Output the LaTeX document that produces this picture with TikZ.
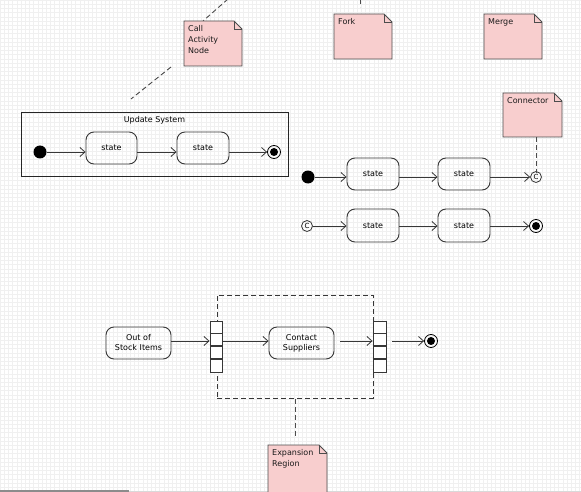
\documentclass[tikz,border=0pt]{standalone}
\usepackage{fontspec}
\setmainfont{DejaVu Sans}
\usetikzlibrary{arrows.meta}
\definecolor{notepink}{RGB}{248,206,206}
\definecolor{edgegray}{RGB}{55,55,55}
\tikzset{
 stbox/.style={draw=edgegray, line width=0.9pt, rounded corners=8pt, minimum width=52pt, minimum height=32pt, inner sep=0pt, align=center, font=\fontsize{8}{10}\selectfont},
 flow/.style={draw=edgegray, line width=0.8pt, -{Straight Barb[length=5pt,width=9pt]}},
 initdot/.style={circle, fill=black, minimum size=13pt, inner sep=0pt},
 finalring/.style={circle, draw=black, line width=0.8pt, minimum size=13pt, inner sep=0pt},
 connc/.style={circle, draw=edgegray, line width=0.8pt, minimum size=11pt, inner sep=0pt, font=\fontsize{7}{7}\selectfont},
 notetxt/.style={anchor=north west, inner sep=1pt, align=left, font=\fontsize{8}{11}\selectfont, text=black!90},
 noteline/.style={draw=black!70, line width=0.9pt, dash pattern=on 5pt off 3pt},
 notebody/.style={fill=notepink, draw=black!70, line width=0.9pt},
 pinbox/.style={draw=edgegray, line width=0.9pt, minimum width=12pt, minimum height=51pt, inner sep=0pt},
}
% name, x1, y1, x2, y2, text
\newcommand\umlnote[6]{%
  \path[notebody] (#2,#3) -- (#4-8,#3) -- (#4,#3+8) -- (#4,#5) -- (#2,#5) -- cycle;
  \draw[black!70, line width=0.7pt] (#4-8,#3) -- (#4-8,#3+8) -- (#4,#3+8);
  \node[inner sep=0pt, minimum width={(#4-#2)*1pt}, minimum height={(#5-#3)*1pt}] (#1) at ({(#2+#4)/2},{(#3+#5)/2}) {};
  \node[notetxt] (#1-txt) at (#2+3,#3+3) {#6};
}
\begin{document}
\begin{tikzpicture}[x=1pt, y=-1pt, font=\fontsize{8}{10}\selectfont]
\useasboundingbox (0,0) rectangle (581,492);
\fill[white] (0,0) rectangle (581,492);
% background grid
\foreach \i in {0,...,138} \draw[black!6, line width=0.4pt] (\i*4.2,0) -- (\i*4.2,492);
\foreach \j in {0,...,117} \draw[black!6, line width=0.4pt] (0,\j*4.2) -- (581,\j*4.2);
\fill[black!45] (0,489.5) rectangle (129,492);
\fill[black!15] (129,490.5) rectangle (581,492);

% ---- note connectors (behind notes)
\coordinate (calltop) at (228,-1);
\coordinate (callmid) at (203,21);
\coordinate (calllow) at (171,67);
\coordinate (callend) at (131,99);
\draw[noteline] (calltop) -- (callmid);
\draw[noteline] (calllow) -- (callend);
\coordinate (forktop) at (360,-1);
\coordinate (forkend) at (360,7);
\draw[noteline] (forktop) -- (forkend);

% ---- notes
\umlnote{callnote}{184}{21}{242}{66}{Call\\Activity\\Node}
\umlnote{forknote}{334}{14}{392}{59}{Fork}
\umlnote{mergenote}{484}{14}{542}{59}{Merge}
\umlnote{connnote}{503}{93}{562}{137}{Connector}
\umlnote{expnote}{268}{445}{327}{495}{Expansion\\Region}

% ---- Update System
\node[draw=black!85, line width=0.8pt, minimum width=267pt, minimum height=64pt, inner sep=0pt] (us) at (154.5,144) {};
\node (ustitle) at (154.5,120) {Update System};
\node[initdot] (usi) at (40,152) {};
\node[stbox, minimum width=51pt] (usa) at (111.5,148) {state};
\node[stbox] (usb) at (203,148) {state};
\node[finalring] (usf) at (274,152) {};
\fill (usf) circle (4pt);
\draw[flow] (usi) -- (usa.west |- usi);
\draw[flow] (usa.east |- usi) -- (usb.west |- usi);
\draw[flow] (usb.east |- usi) -- (usf);

% ---- row 1
\node[initdot] (r1i) at (308,177) {};
\node[stbox] (r1a) at (373,174) {state};
\node[stbox] (r1b) at (464,174) {state};
\node[connc] (r1c) at (536,177) {C};
\draw[flow] (r1i) -- (r1a.west |- r1i);
\draw[flow] (r1a.east |- r1i) -- (r1b.west |- r1i);
\draw[flow] (r1b.east |- r1i) -- (r1c);
\draw[noteline] (r1c |- connnote.south) -- ([yshift=-2pt]r1c.north);

% ---- row 2
\node[connc] (r2c) at (307,226) {C};
\node[stbox, minimum height=33pt] (r2a) at (373,225.5) {state};
\node[stbox, minimum height=33pt] (r2b) at (464,225.5) {state};
\node[finalring] (r2f) at (536,226) {};
\fill (r2f) circle (4pt);
\draw[flow] (r2c) -- (r2a.west |- r2c);
\draw[flow] (r2a.east |- r2c) -- (r2b.west |- r2c);
\draw[flow] (r2b.east |- r2c) -- (r2f);

% ---- expansion region
\node[draw=edgegray, line width=1pt, dash pattern=on 5pt off 3pt, minimum width=156pt, minimum height=103pt, inner sep=0pt] (region) at (295,346.5) {};
\draw[noteline, shorten >=8pt] (region.south) -- (region.south |- expnote.north);

\coordinate (lvl) at (0,341);
\node[stbox, minimum width=65pt] (oos) at (138.5,343) {Out of\\Stock Items};
\node[stbox, minimum width=65pt] (cs) at (301.5,343) {Contact\\Suppliers};
\node[pinbox, fill=white] (pinl) at (216,346.5) {};
\node[pinbox, fill=white, minimum width=13pt] (pinr) at (379.5,346.5) {};
\foreach \k in {1,2,3} {
  \draw[edgegray, line width=1.4pt] (pinl.north west) ++(0,\k*12.75) -- ++(12,0);
  \draw[edgegray, line width=1.4pt] (pinr.north west) ++(0,\k*12.75) -- ++(13,0);
}
\node[finalring] (bf) at (431,341) {};
\fill (bf) circle (4pt);
\draw[flow] (oos.east |- lvl) -- (pinl.west |- lvl);
\draw[flow] (pinl.east |- lvl) -- (cs.west |- lvl);
\draw[flow, shorten <=6pt] (cs.east |- lvl) -- (pinr.west |- lvl);
\draw[flow, shorten <=6pt] (pinr.east |- lvl) -- (bf);
\end{tikzpicture}
\end{document}
